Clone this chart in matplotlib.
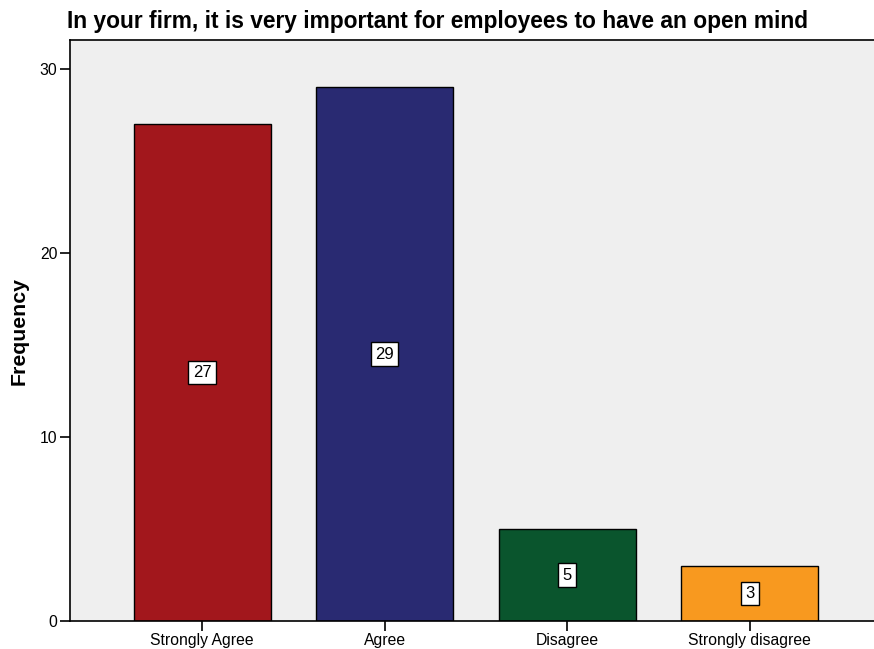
import matplotlib
matplotlib.use("Agg")
import matplotlib.pyplot as plt

categories = ["Strongly Agree", "Agree", "Disagree", "Strongly disagree"]
counts = [27, 29, 5, 3]
bar_colors = ["#A2171C", "#292A72", "#0A552D", "#F8991F"]
y_ticks = [0, 10, 20, 30]

plt.rcParams["font.family"] = ["Liberation Sans", "DejaVu Sans"]

fig = plt.figure(figsize=(8.74, 6.49), dpi=100)
ax = fig.add_axes([0.0801, 0.0431, 0.9199, 0.8953])
ax.set_facecolor("#EFEFEF")

x = list(range(len(categories)))
ax.bar(x, counts, width=0.75, color=bar_colors, edgecolor="black", linewidth=1.0, zorder=2)

for xi, c in zip(x, counts):
    ax.text(xi, c / 2, str(c), ha="center", va="center", fontsize=12, zorder=3,
            bbox=dict(boxstyle="square,pad=0.26", facecolor="white", edgecolor="black", linewidth=1.0))

ax.set_xlim(-0.723, 3.68)
ax.set_ylim(0, 31.58)
ax.set_xticks(x)
ax.set_xticklabels(categories, fontsize=11.3)
ax.set_yticks(y_ticks)
ax.set_yticklabels([str(t) for t in y_ticks], fontsize=11.3)
ax.tick_params(axis="x", length=7, width=1.2, color="black", pad=1.5)
ax.tick_params(axis="y", length=7, width=1.2, color="black", pad=2)

for side in ["left", "bottom", "top"]:
    ax.spines[side].set_linewidth(1.2)
ax.spines["right"].set_visible(False)

ax.set_ylabel("Frequency", fontsize=15.3, fontweight="bold")
ax.yaxis.set_label_coords(-0.051, 0.5)
fig.text(0.0767, 0.967, "In your firm, it is very important for employees to have an open mind",
         fontsize=16.4, fontweight="bold", ha="left", va="center")

fig.savefig("out.png", dpi=100)
